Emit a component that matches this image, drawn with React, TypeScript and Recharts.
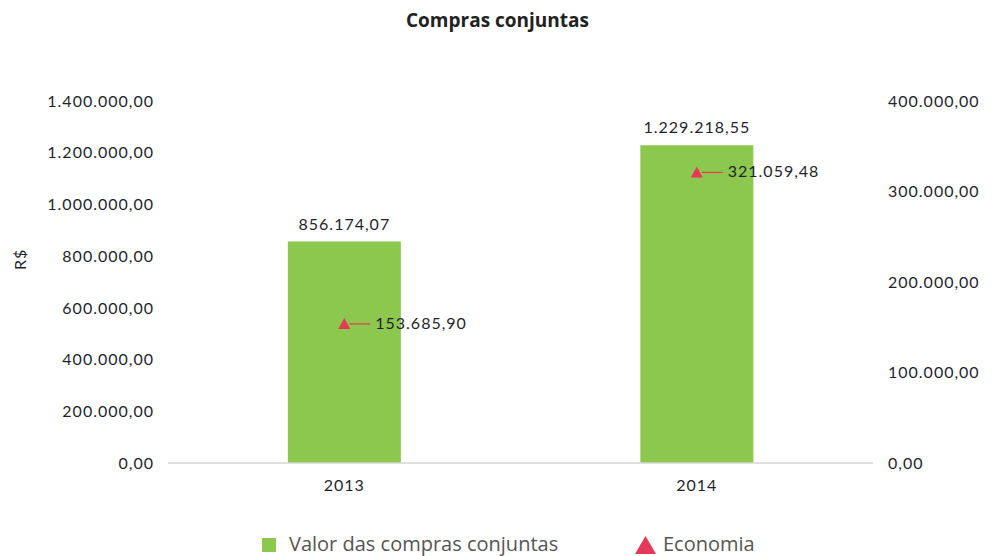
import {
  ComposedChart,
  Bar,
  Line,
  XAxis,
  YAxis,
  LabelList,
} from "recharts";

/* Dados */
const ANOS = ["2013", "2014"];
const VALOR_COMPRAS = [856174.07, 1229218.55];
const ECONOMIA = [153685.9, 321059.48];
const TICKS_ESQ = [0, 200000, 400000, 600000, 800000, 1000000, 1200000, 1400000];
const TICKS_DIR = [0, 100000, 200000, 300000, 400000];

const data = ANOS.map((ano, i) => ({
  ano,
  valor: VALOR_COMPRAS[i],
  economia: ECONOMIA[i],
}));

const VERDE = "#8cc84e";
const VERMELHO = "#e8385a";
const FONTE = "Lato, 'Noto Sans', sans-serif";

/* formata número no padrão brasileiro: 1.229.218,55 */
function fmt(v: number) {
  const [int, dec] = v.toFixed(2).split(".");
  return int.replace(/\B(?=(\d{3})+(?!\d))/g, ".") + "," + dec;
}

const textoEstilo = { fill: "#1f1f2e", fontSize: 16, fontFamily: FONTE, letterSpacing: 1 };

/* triângulo do ponto de economia */
function Triangulo(props: any) {
  const { cx, cy } = props;
  if (cx == null || cy == null) return null;
  return <path d={`M${cx - 6},${cy + 5} L${cx + 6},${cy + 5} L${cx},${cy - 6} Z`} fill={VERMELHO} />;
}

/* rótulo da economia com linha guia */
function RotuloEconomia(props: any) {
  const { x, y, value } = props;
  return (
    <g>
      <line x1={x + 5} y1={y} x2={x + 26} y2={y} stroke={VERMELHO} strokeWidth={1.2} />
      <text x={x + 31} y={y} dy={5} {...textoEstilo}>
        {fmt(value)}
      </text>
    </g>
  );
}

/* legenda (fora do gráfico, posição fixa) */
function Legenda() {
  const base = { position: "absolute" as const, top: 533, fontFamily: "'Open Sans', sans-serif", fontSize: 20, color: "#555", lineHeight: "22px" };
  return (
    <>
      <span style={{ ...base, left: 262, top: 538, width: 14, height: 14, background: VERDE }} />
      <span style={{ ...base, left: 289 }}>Valor das compras conjuntas</span>
      <svg width={21} height={18} style={{ position: "absolute", left: 635, top: 536 }}>
        <path d="M0,18 L21,18 L10.5,0 Z" fill={VERMELHO} />
      </svg>
      <span style={{ ...base, left: 663 }}>Economia</span>
    </>
  );
}

export default function App() {
  return (
    <div style={{ position: "absolute", left: 0, top: 0, width: 995, height: 556, background: "#fff", overflow: "hidden" }}>
      <div
        style={{
          position: "absolute",
          top: 7,
          width: 995,
          textAlign: "center",
          fontFamily: "'Open Sans', sans-serif",
          fontWeight: 700,
          fontSize: 19,
          color: "#222",
        }}
      >
        Compras conjuntas
      </div>
      <ComposedChart
        width={995}
        height={556}
        data={data}
        margin={{ top: 101, right: 0, bottom: 63, left: 0 }}
        barCategoryGap="34%"
      >
        <XAxis
          dataKey="ano"
          height={30}
          tick={textoEstilo}
          tickLine={false}
          tickSize={0}
          tickMargin={17}
          axisLine={{ stroke: "#d4d4d4", strokeWidth: 1.5 }}
        />
        <YAxis
          yAxisId="esq"
          width={168}
          domain={[0, 1400000]}
          ticks={TICKS_ESQ}
          tickFormatter={fmt}
          tick={textoEstilo}
          tickLine={false}
          tickSize={0}
          tickMargin={14}
          axisLine={false}
          label={{ value: "R$", angle: -90, position: "insideLeft", offset: 20, dy: -12, style: textoEstilo }}
        />
        <YAxis
          yAxisId="dir"
          orientation="right"
          width={122}
          domain={[0, 400000]}
          ticks={TICKS_DIR}
          tickFormatter={fmt}
          tick={textoEstilo}
          tickLine={false}
          tickSize={0}
          tickMargin={15}
          axisLine={false}
        />
        <Bar yAxisId="esq" dataKey="valor" fill={VERDE} isAnimationActive={false}>
          <LabelList dataKey="valor" position="top" offset={12} formatter={(v: any) => fmt(Number(v))} style={textoEstilo} />
        </Bar>
        <Line
          yAxisId="dir"
          dataKey="economia"
          stroke="none"
          dot={<Triangulo />}
          activeDot={false}
          isAnimationActive={false}
        >
          <LabelList dataKey="economia" content={<RotuloEconomia />} />
        </Line>
      </ComposedChart>
      <Legenda />
    </div>
  );
}
